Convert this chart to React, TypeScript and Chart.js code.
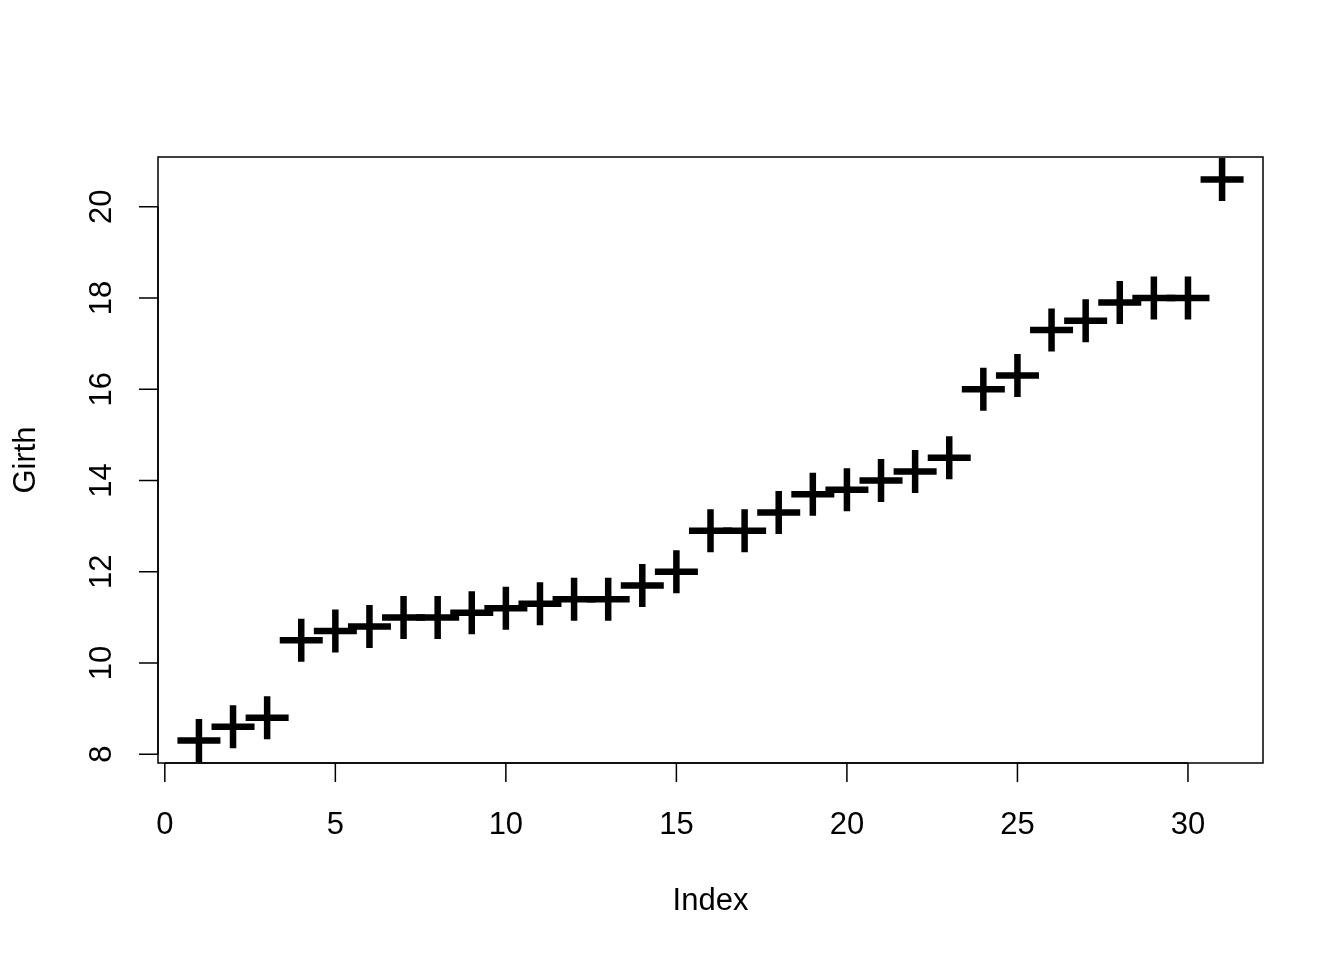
import React, { useEffect, useRef } from "react";
import { Chart, registerables } from "chart.js";

Chart.register(...registerables);

const indices: number[] = Array.from({ length: 31 }, (_, i) => i + 1);
const girth: number[] = [
  8.3, 8.6, 8.8, 10.5, 10.7, 10.8, 11.0, 11.0, 11.1, 11.2, 11.3, 11.4, 11.4, 11.7, 12.0,
  12.9, 12.9, 13.3, 13.7, 13.8, 14.0, 14.2, 14.5, 16.0, 16.3, 17.3, 17.5, 17.9, 18.0, 18.0, 20.6,
];
const xTicks: number[] = [0, 5, 10, 15, 20, 25, 30];
const yTicks: number[] = [8, 10, 12, 14, 16, 18, 20];
const xTitle = "Index";
const yTitle = "Girth";

const FONT = '31px "Liberation Sans", Arial, Helvetica, sans-serif';

const rAxesPlugin = {
  id: "rAxes",
  afterDraw(chart: any) {
    const ctx = chart.ctx as CanvasRenderingContext2D;
    const { left, right, top, bottom } = chart.chartArea;
    const xs = chart.scales.x;
    const ys = chart.scales.y;
    ctx.save();
    ctx.strokeStyle = "#000";
    ctx.fillStyle = "#000";
    ctx.lineWidth = 1.5;
    ctx.lineCap = "butt";
    ctx.strokeRect(left, top, right - left, bottom - top);
    const x0 = xs.getPixelForValue(xTicks[0]);
    const x1 = xs.getPixelForValue(xTicks[xTicks.length - 1]);
    ctx.beginPath();
    ctx.moveTo(x0, bottom);
    ctx.lineTo(x1, bottom);
    for (const t of xTicks) {
      const px = xs.getPixelForValue(t);
      ctx.moveTo(px, bottom);
      ctx.lineTo(px, bottom + 19);
    }
    const y0 = ys.getPixelForValue(yTicks[0]);
    const y1 = ys.getPixelForValue(yTicks[yTicks.length - 1]);
    ctx.moveTo(left, y0);
    ctx.lineTo(left, y1);
    for (const t of yTicks) {
      const py = ys.getPixelForValue(t);
      ctx.moveTo(left, py);
      ctx.lineTo(left - 19, py);
    }
    ctx.stroke();
    ctx.font = FONT;
    ctx.textAlign = "center";
    ctx.textBaseline = "middle";
    for (const t of xTicks) {
      ctx.fillText(String(t), xs.getPixelForValue(t), 825);
    }
    for (const t of yTicks) {
      ctx.save();
      ctx.translate(102, ys.getPixelForValue(t));
      ctx.rotate(-Math.PI / 2);
      ctx.fillText(String(t), 0, 0);
      ctx.restore();
    }
    ctx.fillText(xTitle, (left + right) / 2, 901);
    ctx.save();
    ctx.translate(26, (top + bottom) / 2);
    ctx.rotate(-Math.PI / 2);
    ctx.fillText(yTitle, 0, 0);
    ctx.restore();
    ctx.restore();
  },
};

export default function App() {
  const ref = useRef<HTMLCanvasElement | null>(null);
  useEffect(() => {
    if (!ref.current) return;
    const chart = new Chart(ref.current, {
      type: "scatter",
      data: {
        datasets: [
          {
            data: indices.map((x, i) => ({ x, y: girth[i] })),
            pointStyle: "cross",
            pointRadius: 21.5,
            pointHoverRadius: 21.5,
            borderColor: "#000",
            backgroundColor: "#000",
            borderWidth: 6.5,
            pointBorderWidth: 6.5,
            clip: false,
          } as any,
        ],
      },
      options: {
        responsive: false,
        animation: false,
        events: [],
        layout: { padding: { left: 158, right: 81, top: 157, bottom: 197 } },
        plugins: { legend: { display: false }, tooltip: { enabled: false } },
        scales: {
          x: { type: "linear", min: -0.2, max: 32.2, display: false },
          y: { type: "linear", min: 7.808, max: 21.092, display: false },
        },
      },
      plugins: [rAxesPlugin],
    });
    return () => chart.destroy();
  }, []);
  return (
    <div style={{ position: "absolute", left: 0, top: 0, width: 1344, height: 960, background: "#fff" }}>
      <canvas ref={ref} width={1344} height={960} style={{ display: "block" }} />
    </div>
  );
}
